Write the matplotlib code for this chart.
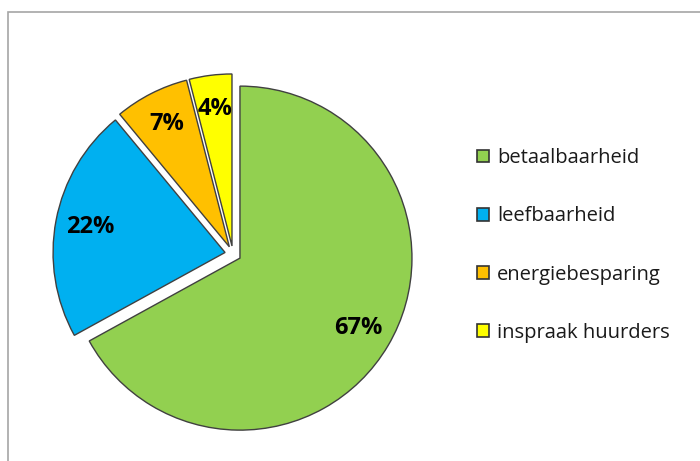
import matplotlib
matplotlib.use("Agg")
import matplotlib.pyplot as plt
from matplotlib.patches import Rectangle

# data
labels = ["betaalbaarheid", "leefbaarheid", "energiebesparing", "inspraak huurders"]
values = [67, 22, 7, 4]
colors = ["#92D050", "#00B0F0", "#FFC000", "#FFFF00"]

plt.rcParams['font.family'] = ['Open Sans', 'DejaVu Sans']

fig = plt.figure(figsize=(7, 4.61), dpi=100)

# pie axes: centre ~ (233, 254) px, radius ~172 px
R_px = 200
cx, cy = 233, 254
ax = fig.add_axes([(cx - R_px) / 700, (461 - cy - R_px) / 461, 2 * R_px / 700, 2 * R_px / 461])
lim = R_px / 172

wedges, texts, autotexts = ax.pie(values, colors=colors, startangle=90, counterclock=False,
                                  explode=[0.047] * 4, autopct='%d%%', pctdistance=0.8,
                                  wedgeprops=dict(edgecolor='#404040', linewidth=1.0),
                                  textprops=dict(fontsize=17, fontweight='bold', color='black'),
                                  frame=False)
ax.set_xlim(-lim, lim)
ax.set_ylim(-lim, lim)
ax.set_aspect('equal')
ax.axis('off')

leg = fig.legend(wedges, labels, loc='upper left', bbox_to_anchor=(469 / 700, 1 - 140 / 461),
                 frameon=False, fontsize=14.5, handlelength=0.6, handleheight=0.6,
                 handletextpad=0.4, labelspacing=1.9, borderaxespad=0)
for h in leg.legend_handles:
    h.set_edgecolor('#333333')
    h.set_linewidth(1.2)
for t in leg.get_texts():
    t.set_color('#1a1a1a')

# chart frame (top and left edges visible)
fig.add_artist(Rectangle((7.5 / 700, -0.1), 1.2, (461 - 12) / 461 + 0.1, transform=fig.transFigure,
                         fill=False, edgecolor='#A6A6A6', linewidth=1.2))

fig.savefig('out.png', dpi=100)
